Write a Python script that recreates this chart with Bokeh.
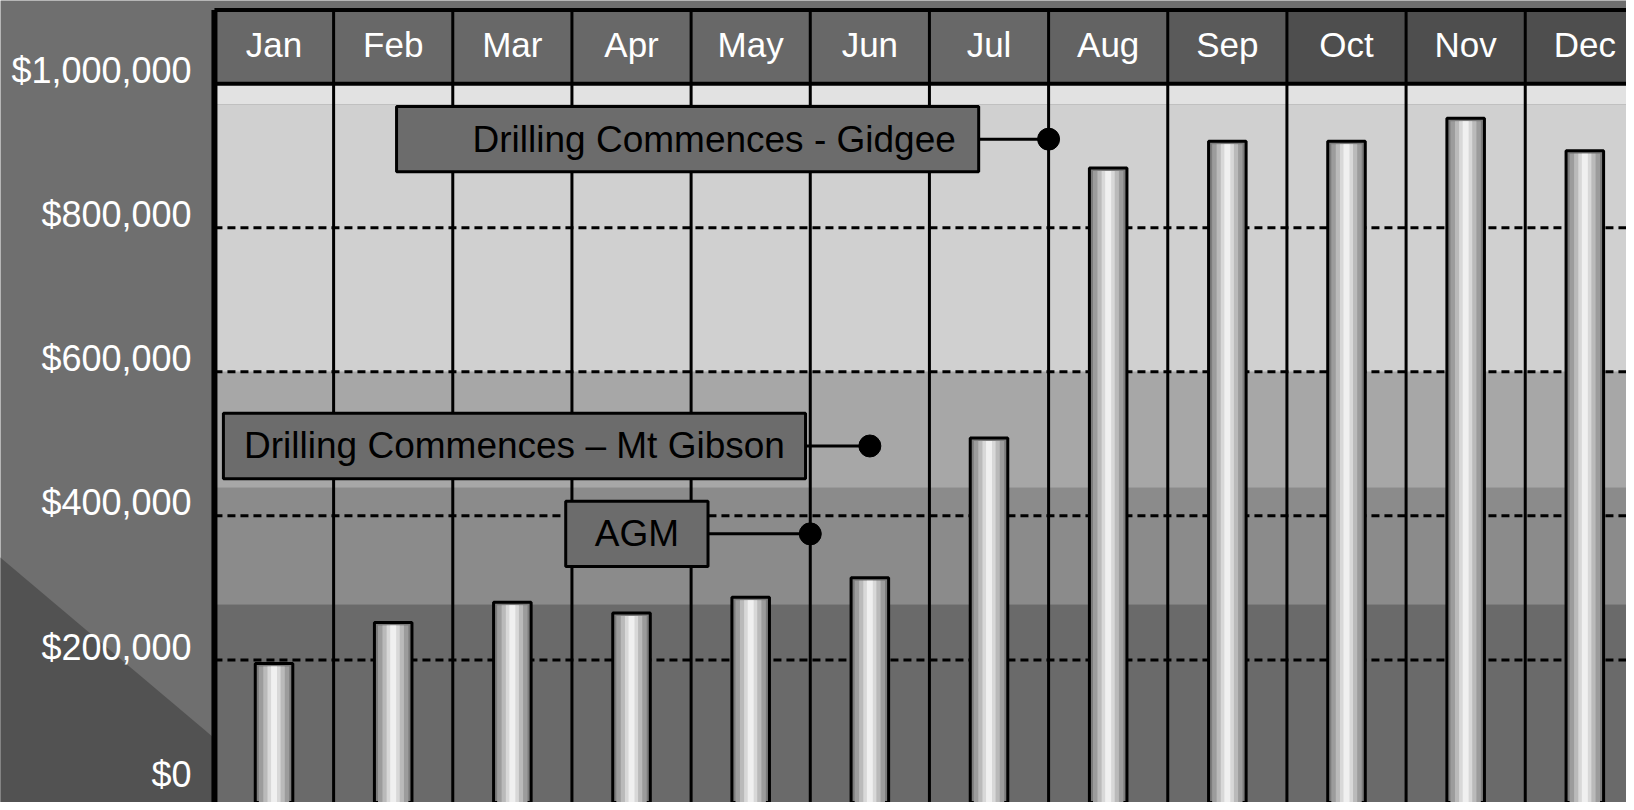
from bokeh.plotting import figure
from bokeh.models import Range1d
from bokeh.embed import file_html
from bokeh.resources import INLINE
from bokeh.core.properties import value

# ---------------- data ----------------
months = ["Jan", "Feb", "Mar", "Apr", "May", "Jun", "Jul", "Aug", "Sep", "Oct", "Nov", "Dec"]
revenue = [195000, 252000, 280000, 265000, 287000, 314000, 508000, 883000, 920000, 920000, 952000, 907000]
tick_values = [0, 200000, 400000, 600000, 800000, 1000000]
tick_labels = ["$0", "$200,000", "$400,000", "$600,000", "$800,000", "$1,000,000"]
grid_values = [200000, 400000, 600000, 800000]
band_edges = [0, 277000, 439000, 600000, 971000, 1000000]
band_colors = ["#6a6a6a", "#8b8b8b", "#a7a7a7", "#d0d0d0", "#e2e2e2"]
header_colors = ["#686868"] * 7 + ["#636363", "#5a5a5a", "#4e4e4e", "#4e4e4e", "#4e4e4e"]
event_labels = ["Drilling Commences - Gidgee", "Drilling Commences \u2013 Mt Gibson", "AGM"]
event_x = [7.0, 5.5, 5.0]          # position on the month axis
event_values = [923000, 497000, 375000]

# ---------------- layout helpers ----------------
PXV = 1e6 / 727.5      # value units per pixel
PXX = 1 / 119.75       # month units per pixel
FONT = value("Liberation Sans")


def vpix(img_y):
    return (811.5 - img_y) * PXV


p = figure(width=1626, height=802,
           x_range=Range1d(-215 * PXX, (1634 - 215) * PXX),
           y_range=Range1d(vpix(810), vpix(0)),
           output_backend="svg", toolbar_location=None, min_border=0,
           x_axis_location=None, y_axis_location=None,
           background_fill_color="#6f6f6f", border_fill_color="#6f6f6f",
           outline_line_color=None)
p.grid.visible = False

n = len(months)
top_v = vpix(9.5)

# left panel darker wedge
p.patch([-1.9, 0, 0, -1.9], [vpix(552), vpix(745), 0, 0], color="#525252", line_color=None)

# background bands
p.quad(left=0, right=n + 0.5, bottom=band_edges[:-1], top=band_edges[1:],
       fill_color=band_colors, line_color=None)

# header cells
xs = list(range(n))
p.quad(left=xs, right=[x + 1 for x in xs], bottom=1e6, top=top_v,
       fill_color=header_colors, line_color=None)
p.text(x=[x + 0.5 for x in xs], y=vpix(44), text=months, text_font=FONT,
       text_font_size="35px", text_color="white", text_align="center",
       text_baseline="middle")

# dashed gridlines
p.segment(x0=0, x1=n + 0.5, y0=grid_values, y1=grid_values, line_color="black",
          line_width=3, line_dash="8 5")

# column separators
p.segment(x0=list(range(1, n + 1)), x1=list(range(1, n + 1)), y0=0, y1=top_v,
          line_color="black", line_width=3)
p.segment(x0=[0], x1=[0], y0=0, y1=top_v, line_color="black", line_width=6)
p.segment(x0=[0, 0], x1=[n + 0.5, n + 0.5], y0=[1e6, top_v],
          y1=[1e6, top_v], line_color="black", line_width=4)

# y labels
label_y = [v + (30 if v == 0 else 13) * PXV for v in tick_values]
p.text(x=-23 * PXX, y=label_y, text=tick_labels,
       text_font=FONT, text_font_size="36px", text_color="white",
       text_align="right", text_baseline="middle")

# cylinder-like bars
centers = [x + 0.5 for x in xs]
p.vbar(x=centers, top=revenue, bottom=0, width=0.315, fill_color="#7c7c7c",
       line_color="black", line_width=3)
for w, c in [(0.255, "#9c9c9c"), (0.18, "#bababa"), (0.11, "#d8d8d8"), (0.05, "#f0f0f0")]:
    p.vbar(x=centers, top=[r - 3 * PXV for r in revenue], bottom=0, width=w,
           fill_color=c, line_color=None)

# annotation boxes (left, right in months; text anchor)
box_left = [(398 - 215) * PXX, (224 - 215) * PXX, (568 - 215) * PXX]
box_right = [(983 - 215) * PXX, (809 - 215) * PXX, (711 - 215) * PXX]
text_x = [box_right[0] - 23 * PXX, (box_left[1] + box_right[1]) / 2, (box_left[2] + box_right[2]) / 2]
text_align = ["right", "center", "center"]

p.segment(x0=box_right, x1=event_x, y0=event_values, y1=event_values,
          line_color="black", line_width=3)
p.scatter(x=event_x, y=event_values, size=22, color="black")
p.quad(left=box_left, right=box_right,
       bottom=[v - 33 * PXV for v in event_values],
       top=[v + 33 * PXV for v in event_values],
       fill_color="#6c6c6c", line_color="black", line_width=3)
for i in range(len(event_labels)):
    p.text(x=[text_x[i]], y=[event_values[i]], text=[event_labels[i]],
           text_font=FONT, text_font_size="37px", text_color="black",
           text_align=text_align[i], text_baseline="middle")

open("out.html", "w").write(file_html(p, INLINE))
